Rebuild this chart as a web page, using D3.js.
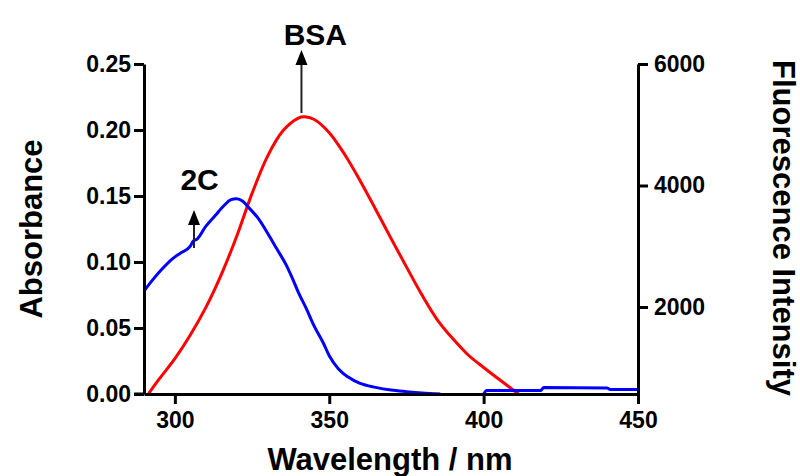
<!DOCTYPE html>
<html><head><meta charset="utf-8">
<script src="https://cdn.jsdelivr.net/npm/d3@7"></script>
<style>body{margin:0;background:#fff}svg{display:block}text{font-family:"Liberation Sans",Arial,sans-serif;font-weight:bold}</style>
</head><body>
<svg id="c" width="800" height="476"></svg>
<script>
const xTicks = [300, 350, 400, 450];
const leftTicks = [0, 0.05, 0.10, 0.15, 0.20, 0.25];
const rightTicks = [2000, 4000, 6000];

const blueWavelength = [290,293,296,299,302,305,306,307,310,313,316,318,320,322,324,327,330,333,336,338,340,342.5,345,348,350,353,356,360,365,370,375,380,386,393,400,401,418.5,419.5,440,441,450];
const blueAbsorbance = [0.078,0.087,0.095,0.102,0.107,0.112,0.116,0.117,0.127,0.135,0.143,0.147,0.148,0.146,0.141,0.133,0.122,0.110,0.098,0.088,0.077,0.065,0.052,0.039,0.029,0.019,0.013,0.008,0.005,0.003,0.0018,0.0008,0.0,null,0.0,0.0027,0.0027,0.005,0.0045,0.0035,0.0035];

const redWavelength = [291.5,295,300,305,310,315,320,325,330,335,340,342,345,350,355,360,365,370,375,380,385,390,395,400,405,411.5];
const redFluorescence = [575,820,1150,1540,1990,2530,3160,3870,4480,4900,5110,5130,5090,4870,4510,4080,3610,3130,2660,2200,1790,1480,1210,1005,810,560];

const svg = d3.select("#c");
const x = d3.scaleLinear().domain([290, 450]).range([144, 638]);
const yL = d3.scaleLinear().domain([0, 0.25]).range([394, 64]);
const yR = d3.scaleLinear().domain([568, 6000]).range([394, 64]);

function styleAxis(g){
  g.select(".domain").attr("stroke","#000").attr("stroke-width",3);
  g.selectAll(".tick line").attr("stroke","#000").attr("stroke-width",3);
  g.selectAll(".tick text").attr("fill","#000").style("font-size","23px").style("font-weight","bold").style("font-family","'Liberation Sans', Arial, sans-serif");
}

const blueData = blueWavelength.map((w,i)=>({w, v: blueAbsorbance[i]}));
const redData = redWavelength.map((w,i)=>({w, v: redFluorescence[i]}));
svg.append("path").datum(redData)
  .attr("d", d3.line().x(d=>x(d.w)).y(d=>yR(d.v)).curve(d3.curveCatmullRom.alpha(0.5)))
  .attr("fill","none").attr("stroke","#ff0000").attr("stroke-width",3);
svg.append("path").datum(blueData)
  .attr("d", d3.line().defined(d=>d.v!==null).x(d=>x(d.w)).y(d=>yL(d.v)).curve(d3.curveMonotoneX))
  .attr("fill","none").attr("stroke","#0000ff").attr("stroke-width",3);

svg.append("g").attr("transform","translate(0,394)")
  .call(d3.axisBottom(x).tickValues(xTicks).tickSize(10).tickSizeOuter(0).tickPadding(8).tickFormat(d3.format("d")))
  .call(styleAxis);
svg.append("g").attr("transform","translate(144,0)")
  .call(d3.axisLeft(yL).tickValues(leftTicks).tickSize(10).tickSizeOuter(0).tickPadding(3).tickFormat(d3.format(".2f")))
  .call(styleAxis);
svg.append("g").attr("transform","translate(638,0)")
  .call(d3.axisRight(yR).tickValues(rightTicks).tickSize(10).tickSizeOuter(0).tickPadding(6).tickFormat(d3.format("d")))
  .call(styleAxis);
svg.append("line").attr("x1",134).attr("x2",144).attr("y1",394).attr("y2",394).attr("stroke","#000").attr("stroke-width",3);

svg.append("text").attr("x",390).attr("y",470).attr("text-anchor","middle").style("font-size","31px").text("Wavelength / nm");
svg.append("text").attr("transform","translate(42,229) rotate(-90)").attr("text-anchor","middle").style("font-size","31px").text("Absorbance");
svg.append("text").attr("transform","translate(773,228) rotate(90)").attr("text-anchor","middle").style("font-size","31px").text("Fluorescence Intensity");

function arrow(xw, y0, y1){
  svg.append("line").attr("x1",x(xw)).attr("x2",x(xw)).attr("y1",y0).attr("y2",y1+6)
    .attr("stroke","#222").attr("stroke-width",2);
  svg.append("path").attr("d",`M${x(xw)-6},${y1+15} L${x(xw)},${y1} L${x(xw)+6},${y1+15} Z`).attr("fill","#000");
}
arrow(341, 113, 50);
arrow(306.2, 248, 210);
svg.append("text").attr("x",x(345.5)).attr("y",45).attr("text-anchor","middle").style("font-size","30px").text("BSA");
svg.append("text").attr("x",x(308)).attr("y",190).attr("text-anchor","middle").style("font-size","30px").text("2C");
</script>
</body></html>
